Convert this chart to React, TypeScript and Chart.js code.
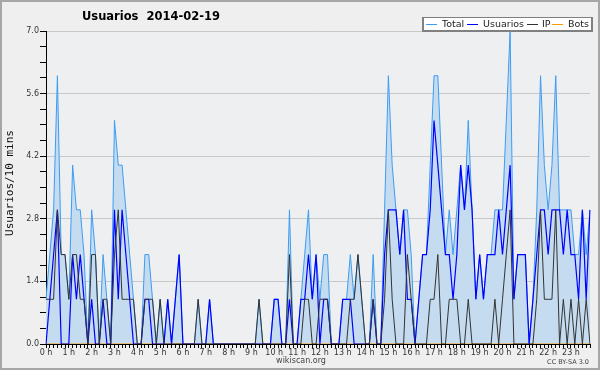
import React, { useEffect, useRef } from "react";
import { Chart, registerables } from "chart.js";

Chart.register(...registerables);

// 10-minute slots of 2014-02-19 (144 slots), hour labels every 6 slots
const HOURS = [
  "0 h", "1 h", "2 h", "3 h", "4 h", "5 h", "6 h", "7 h", "8 h", "9 h", "10 h", "11 h",
  "12 h", "13 h", "14 h", "15 h", "16 h", "17 h", "18 h", "19 h", "20 h", "21 h", "22 h", "23 h",
];
const SLOTS: string[] = [];
for (let h = 0; h < 24; h++) {
  for (let m = 0; m < 60; m += 10) SLOTS.push(`${h}:${m < 10 ? "0" + m : m}`);
}

const TOTAL = [
  1, 2, 3, 6, 2, 2, 1, 4, 3, 3, 2, 0,
  3, 2, 0, 2, 1, 0, 5, 4, 4, 3, 2, 1,
  0, 0, 2, 2, 1, 0, 1, 0, 1, 0, 1, 2,
  0, 0, 0, 0, 1, 0, 0, 1, 0, 0, 0, 0,
  0, 0, 0, 0, 0, 0, 0, 0, 1, 0, 0, 0,
  1, 1, 0, 0, 3, 0, 0, 1, 2, 3, 1, 2,
  1, 2, 2, 0, 0, 0, 1, 1, 2, 1, 2, 1,
  0, 0, 2, 0, 0, 3, 6, 4, 3, 2, 3, 3,
  2, 0, 1, 2, 2, 4, 6, 6, 4, 2, 3, 2,
  3, 4, 3, 5, 3, 1, 2, 1, 2, 2, 3, 3,
  3, 5, 7, 1, 2, 2, 2, 0, 1, 3, 6, 4,
  3, 4, 6, 3, 3, 3, 3, 2, 2, 3, 2, 3,
];

const USUARIOS = [
  0, 1, 2, 3, 0, 0, 0, 2, 1, 2, 1, 0,
  1, 0, 0, 1, 0, 0, 3, 1, 3, 2, 1, 0,
  0, 0, 1, 1, 0, 0, 0, 0, 1, 0, 1, 2,
  0, 0, 0, 0, 0, 0, 0, 1, 0, 0, 0, 0,
  0, 0, 0, 0, 0, 0, 0, 0, 0, 0, 0, 0,
  1, 1, 0, 0, 1, 0, 0, 1, 1, 2, 1, 2,
  0, 1, 1, 0, 0, 0, 1, 1, 1, 0, 0, 0,
  0, 0, 1, 0, 0, 2, 3, 3, 3, 2, 3, 1,
  1, 0, 1, 2, 2, 3, 5, 4, 3, 2, 2, 1,
  2, 4, 3, 4, 3, 1, 2, 1, 2, 2, 2, 3,
  2, 3, 4, 1, 2, 2, 2, 0, 1, 2, 3, 3,
  2, 3, 3, 3, 2, 3, 2, 2, 1, 3, 1, 3,
];

const IP = [
  1, 1, 1, 3, 2, 2, 1, 2, 2, 1, 1, 0,
  2, 2, 0, 1, 1, 0, 2, 3, 1, 1, 1, 1,
  0, 0, 1, 1, 1, 0, 1, 0, 0, 0, 0, 0,
  0, 0, 0, 0, 1, 0, 0, 0, 0, 0, 0, 0,
  0, 0, 0, 0, 0, 0, 0, 0, 1, 0, 0, 0,
  0, 0, 0, 0, 2, 0, 0, 0, 1, 1, 0, 0,
  1, 1, 1, 0, 0, 0, 0, 0, 1, 1, 2, 1,
  0, 0, 1, 0, 0, 1, 3, 1, 0, 0, 0, 2,
  1, 0, 0, 0, 0, 1, 1, 2, 0, 0, 1, 1,
  1, 0, 0, 1, 0, 0, 0, 0, 0, 0, 1, 0,
  1, 2, 3, 0, 0, 0, 0, 0, 0, 1, 3, 1,
  1, 1, 3, 0, 1, 0, 1, 0, 1, 0, 1, 0,
];

const BOTS = [
  0, 0, 0, 0, 0, 0, 0, 0, 0, 0, 0, 0,
  0, 0, 0, 0, 0, 0, 0, 0, 0, 0, 0, 0,
  0, 0, 0, 0, 0, 0, 0, 0, 0, 0, 0, 0,
  0, 0, 0, 0, 0, 0, 0, 0, 0, 0, 0, 0,
  0, 0, 0, 0, 0, 0, 0, 0, 0, 0, 0, 0,
  0, 0, 0, 0, 0, 0, 0, 0, 0, 0, 0, 0,
  0, 0, 0, 0, 0, 0, 0, 0, 0, 0, 0, 0,
  0, 0, 0, 0, 0, 0, 0, 0, 0, 0, 0, 0,
  0, 0, 0, 0, 0, 0, 0, 0, 0, 0, 0, 0,
  0, 0, 0, 0, 0, 0, 0, 0, 0, 0, 0, 0,
  0, 0, 0, 0, 0, 0, 0, 0, 0, 0, 0, 0,
  0, 0, 0, 0, 0, 0, 0, 0, 0, 0, 0, 0,
];

const Y_MAX = 7.0;
const Y_MAJOR = 1.4;
const Y_MINOR = 0.35;

const TITLE = "Usuarios  2014-02-19";
const Y_TITLE = "Usuarios/10 mins";
const SITE = "wikiscan.org";
const LICENSE = "CC BY-SA 3.0";

const COLORS = {
  Total: "#3d9cf2",
  TotalFill: "#c5dcf0",
  Usuarios: "#0000ff",
  IP: "#333333",
  Bots: "#ff9900",
};

const FONT = '"DejaVu Sans", Verdana, sans-serif';

const isMajor = (v: number) => {
  const r = v / Y_MAJOR;
  return Math.abs(r - Math.round(r)) < 1e-6;
};

const decorPlugin = {
  id: "decor",
  beforeDraw(chart: any) {
    const { ctx, chartArea } = chart;
    ctx.save();
    ctx.fillStyle = "#efefef";
    ctx.fillRect(0, 0, chart.width, chart.height);
    ctx.fillStyle = "#eeeff1";
    ctx.fillRect(chartArea.left, chartArea.top, chartArea.right - chartArea.left, chartArea.bottom - chartArea.top);
    ctx.restore();
  },
  afterDraw(chart: any) {
    const { ctx } = chart;
    ctx.save();
    // frame
    ctx.strokeStyle = "#a6a6a6";
    ctx.lineWidth = 2;
    ctx.strokeRect(1, 1, chart.width - 2, chart.height - 2);

    // title
    ctx.fillStyle = "#000";
    ctx.font = `bold 11.5px ${FONT}`;
    ctx.textAlign = "center";
    ctx.textBaseline = "middle";
    ctx.fillText(TITLE, 151, 17);

    // y axis title
    ctx.save();
    ctx.translate(10, 183);
    ctx.rotate(-Math.PI / 2);
    ctx.font = `11px "DejaVu Sans Mono", monospace`;
    ctx.fillStyle = "#111";
    ctx.textAlign = "center";
    ctx.textBaseline = "middle";
    ctx.fillText(Y_TITLE, 0, 0);
    ctx.restore();

    // legend box
    ctx.fillStyle = "#808080";
    ctx.fillRect(422, 17, 171, 15);
    ctx.fillStyle = "#ffffff";
    ctx.fillRect(424, 18, 167, 12);
    const items = chart.data.datasets.map((d: any) => ({ label: d.label, color: d.borderColor }));
    const pos: Record<string, [number, number]> = {
      Total: [426, 442],
      Usuarios: [467, 483],
      IP: [527, 542],
      Bots: [552, 568],
    };
    ctx.font = `9.5px ${FONT}`;
    ctx.textAlign = "left";
    ctx.textBaseline = "middle";
    items.forEach((it: any) => {
      const p = pos[it.label];
      if (!p) return;
      ctx.strokeStyle = it.color;
      ctx.lineWidth = 1;
      ctx.beginPath();
      ctx.moveTo(p[0], 24.5);
      ctx.lineTo(p[0] + 11, 24.5);
      ctx.stroke();
      ctx.fillStyle = "#222";
      ctx.fillText(it.label, p[1], 24.5);
    });

    // footer
    ctx.fillStyle = "#444";
    ctx.font = `8px ${FONT}`;
    ctx.textAlign = "center";
    ctx.fillText(SITE, 301, 361);
    ctx.font = `6.5px ${FONT}`;
    ctx.textAlign = "right";
    ctx.fillText(LICENSE, 589, 362);
    ctx.restore();
  },
};

export default function App() {
  const ref = useRef<HTMLCanvasElement | null>(null);

  useEffect(() => {
    document.body.style.margin = "0";
    const canvas = ref.current;
    if (!canvas) return;
    const chart = new Chart(canvas, {
      type: "line",
      data: {
        labels: SLOTS,
        datasets: [
          {
            label: "Total",
            data: TOTAL,
            borderColor: COLORS.Total,
            backgroundColor: COLORS.TotalFill,
            fill: "origin",
            borderWidth: 1,
            pointRadius: 0,
            tension: 0,
            order: 4,
          },
          {
            label: "Usuarios",
            data: USUARIOS,
            borderColor: COLORS.Usuarios,
            backgroundColor: COLORS.Usuarios,
            fill: false,
            borderWidth: 1.2,
            pointRadius: 0,
            tension: 0,
            order: 2,
          },
          {
            label: "IP",
            data: IP,
            borderColor: COLORS.IP,
            backgroundColor: COLORS.IP,
            fill: false,
            borderWidth: 1,
            pointRadius: 0,
            tension: 0,
            order: 1,
          },
          {
            label: "Bots",
            data: BOTS,
            borderColor: COLORS.Bots,
            backgroundColor: COLORS.Bots,
            fill: false,
            borderWidth: 1,
            pointRadius: 0,
            tension: 0,
            order: 3,
          },
        ],
      },
      options: {
        animation: false,
        responsive: false,
        devicePixelRatio: 1,
        layout: { padding: { top: 31, right: 10, left: 0, bottom: 0 } },
        plugins: {
          legend: { display: false },
          title: { display: false },
          tooltip: { enabled: false },
        },
        scales: {
          x: {
            type: "category",
            offset: false,
            ticks: {
              autoSkip: false,
              maxRotation: 0,
              minRotation: 0,
              padding: 0,
              color: "#333",
              font: { size: 8, family: FONT },
              callback: (_v: any, i: number) => (i % 6 === 0 ? HOURS[i / 6] : ""),
            },
            grid: { drawOnChartArea: false, tickLength: 4, tickColor: "#000", offset: false },
            border: { color: "#000", width: 1 },
            afterFit: (s: any) => {
              s.height = 26;
            },
          },
          y: {
            min: 0,
            max: Y_MAX,
            afterBuildTicks: (s: any) => {
              const t = [];
              for (let k = 0; k <= Math.round(Y_MAX / Y_MINOR); k++) {
                t.push({ value: Math.round(k * Y_MINOR * 100) / 100 });
              }
              s.ticks = t;
            },
            ticks: {
              padding: 1,
              color: "#333",
              font: { size: 8, family: FONT },
              callback: (v: any) => (isMajor(Number(v)) ? Number(v).toFixed(1) : ""),
            },
            grid: {
              color: (c: any) => (c.tick && isMajor(c.tick.value) ? "#c8c8c8" : "rgba(0,0,0,0)"),
              tickColor: "#000",
              tickLength: 6,
            },
            border: { color: "#000", width: 1 },
            afterFit: (s: any) => {
              s.width = 46;
            },
          },
        },
      },
      plugins: [decorPlugin],
    } as any);
    return () => chart.destroy();
  }, []);

  return (
    <div style={{ position: "fixed", left: 0, top: 0, width: 600, height: 370 }}>
      <canvas ref={ref} width={600} height={370} style={{ display: "block" }} />
    </div>
  );
}
